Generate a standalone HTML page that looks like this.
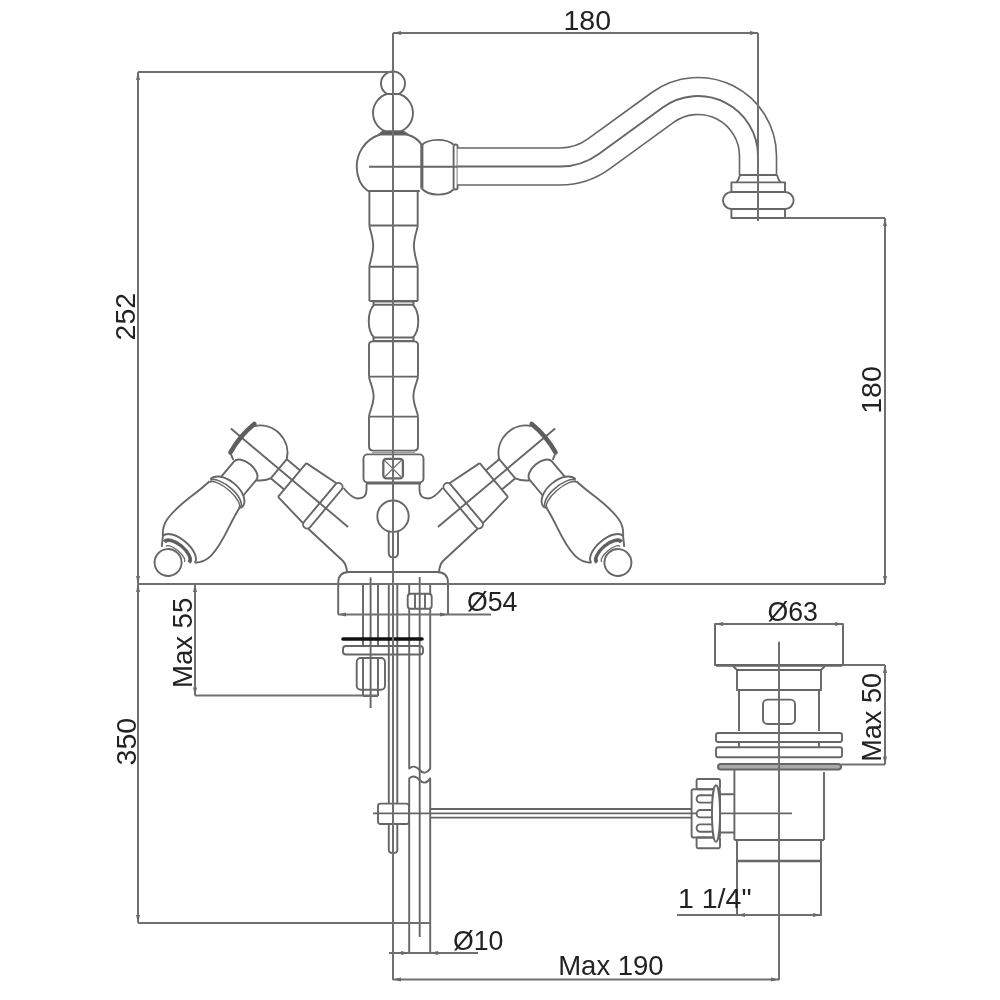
<!DOCTYPE html>
<html><head><meta charset="utf-8"><style>
html,body{margin:0;padding:0;background:#fff;width:1000px;height:1000px;overflow:hidden}
svg{display:block;will-change:transform}
text{font-family:"Liberation Sans",sans-serif}
</style></head><body>
<svg width="1000" height="1000" viewBox="0 0 1000 1000">
<g fill="none" stroke="#666" stroke-width="1.9" stroke-linejoin="round">
<path d="M387.2 94A12 12 0 1 1 398.8 94Z"/>
<path d="M386.8 94A20 20 0 0 0 385.4 131.5M399.2 94A20 20 0 0 1 400.6 131.5"/>
<path d="M383 131.3L403 131.3L408 134.6L379 134.6Z" fill="#5a5a5a"/>
<path d="M380 134.5C364 140 356.5 154 356.7 167C357 178 361 186 367.8 191"/>
<path d="M406.8 134.5C414 136.5 419 140 421.7 145L421.7 188.5"/>
<path d="M421.9 144L421.9 188.5" stroke-width="3"/>
<path d="M367.8 191L419.8 191"/>
<path d="M421.7 145C429 138.2 446 138.2 453.5 144.5M421.7 188.5C429 196.5 446 196.5 453.5 189.5"/>
<rect x="453.6" y="144.5" width="4" height="45" rx="2"/>
<path d="M457.5 166.5L560 166.5A66 66 0 0 0 598.8 153.9L662.73 107.46A60 60 0 0 1 758 156L758 175" stroke-width="38.6"/>
<path d="M457.5 166.5L560 166.5A66 66 0 0 0 598.8 153.9L662.73 107.46A60 60 0 0 1 758 156L758 175" stroke="#fff" stroke-width="35.4"/>
<path d="M369 166.8L457.5 166.8"/>
<path d="M457.5 166.5L560 166.5A66 66 0 0 0 598.8 153.9L662.73 107.46A60 60 0 0 1 758 156L758 175"/>
<path d="M740 175L777 175M740 175Q738.5 180 736.6 182.4M777 175Q778.5 180 780.4 182.4"/>
<rect x="731.4" y="182.4" width="53.6" height="9.6"/>
<rect x="723" y="192" width="70.6" height="17" rx="8.5"/>
<rect x="731.4" y="209" width="53.6" height="9"/>
<path d="M369.4 191L369.4 225.5M417.7 191L417.7 225.5M369.4 225.5L417.7 225.5"/>
<path d="M369.4 225.5C369.4 229 373.2 237 373.2 246.1C373.2 255 369.4 263 369.4 266.8M417.7 225.5C417.7 229 413.9 237 413.9 246.1C413.9 255 417.7 263 417.7 266.8"/>
<path d="M369.4 266.8L417.7 266.8M369.4 266.8L369.4 301M417.7 266.8L417.7 301M369.4 301L417.7 301"/>
<path d="M373.5 301.5L413.5 301.5L413.5 304.8L373.5 304.8Z" stroke-width="2"/>
<path d="M374 305C367 312 367 330.5 374 337.4M413 305C420 312 420 330.5 413 337.4"/>
<path d="M373.5 337.6L413.5 337.6L413.5 341L373.5 341Z" stroke-width="2"/>
<path d="M369 376.6L369 345Q369 341.4 373 341.4L414 341.4Q418 341.4 418 345L418 376.6M369 376.6L418 376.6"/>
<path d="M369 376.6C369 380 373.6 388 373.6 396.6C373.6 405 369 413 369 416.6M418 376.6C418 380 413.4 388 413.4 396.6C413.4 405 418 413 418 416.6"/>
<path d="M369 416.6L418 416.6M369 416.6L369 446.6Q369 450.6 373 450.6L414 450.6Q418 450.6 418 446.6L418 416.6"/>
<path d="M372 452.5L415 452.5" stroke-width="1" stroke="#999"/>
<rect x="363.5" y="454.4" width="60" height="28.1" rx="4"/>
<path d="M366 483.3L421 483.3" stroke-width="2.6"/>
<rect x="383.3" y="458.8" width="19.6" height="19.6" rx="3" stroke-width="2.3"/>
<path d="M384.8 460.6L401 476.9M401 460.6L384.8 476.9" stroke-width="1.3"/>
<path d="M343.5 488Q352 498.5 358 498.5Q366.5 498.5 366.5 490L366.5 484"/>
<path d="M442.5 488Q434 498.5 428 498.5Q419.5 498.5 419.5 490L419.5 484"/>
<path d="M308.5 529L343 561Q346.5 565 347 572M477.5 529L443 561Q439.5 565 439 572"/>
<circle cx="393" cy="516.2" r="15.7"/>
<path d="M388.7 532L388.7 553Q388.7 557.5 393.3 557.5Q398 557.5 398 553L398 532"/>
<path d="M338.2 614.5L338.2 583Q338.2 572 349 572L437 572Q448 572 448 583L448 614.5"/>
<g transform="translate(260,453) rotate(40)"><path d="M-38 0L115 0"/><path d="M-21.5 -17.2A27.5 27.5 0 0 1 24.5 -12.5M24.5 12.5A27.5 27.5 0 0 1 14.5 23.4"/><path d="M-23 -18.5Q-26.5 0 -23 18.5" stroke-width="4.6" stroke="#5e5e5e" stroke-linecap="round"/><path d="M-23.5 18.5L-16 22.5"/><path d="M24.5 -12.5L42 -12.5M24.5 12.5L42 12.5M24.5 -12.5L24.5 12.5"/><path d="M42 -22L78 -26M42 22L78 26M42 -22L42 22"/><rect x="78" y="-28.5" width="8" height="57" rx="4"/><path d="M-14.5 43.3L-14.5 23A14.5 8 0 0 1 14.5 23L14.5 43.3"/><path d="M-21 52A21 12 0 0 1 21 52Q21.5 54 19.5 54.5"/><path d="M-20.5 53A20 8 0 0 1 19.5 54.5" stroke-width="1.6"/><path d="M-20 55A19.5 7 0 0 1 19 56" stroke-width="1.4"/><path d="M-20.5 54C-23 75 -30 92 -28.5 110C-28 117 -25 122 -21 126M19.5 55C22 75 30 92 28.5 110C28 117 25 122 20.5 126"/><path d="M-21 126A20.75 10 0 0 1 20.5 126"/><path d="M-17.5 129A17.5 8.5 0 0 1 17.5 129L14.5 129A14.5 6 0 0 0 -14.5 129Z" fill="#5a5a5a" stroke-width="1"/><path d="M-12 132A12 4.5 0 0 1 12 132" stroke-width="1.2"/><path d="M-21 126L-15 135"/><circle cx="0" cy="143" r="13.5" fill="#fff"/></g>
<g transform="translate(786,0) scale(-1,1)"><g transform="translate(260,453) rotate(40)"><path d="M-38 0L115 0"/><path d="M-21.5 -17.2A27.5 27.5 0 0 1 24.5 -12.5M24.5 12.5A27.5 27.5 0 0 1 14.5 23.4"/><path d="M-23 -18.5Q-26.5 0 -23 18.5" stroke-width="4.6" stroke="#5e5e5e" stroke-linecap="round"/><path d="M-23.5 18.5L-16 22.5"/><path d="M24.5 -12.5L42 -12.5M24.5 12.5L42 12.5M24.5 -12.5L24.5 12.5"/><path d="M42 -22L78 -26M42 22L78 26M42 -22L42 22"/><rect x="78" y="-28.5" width="8" height="57" rx="4"/><path d="M-14.5 43.3L-14.5 23A14.5 8 0 0 1 14.5 23L14.5 43.3"/><path d="M-21 52A21 12 0 0 1 21 52Q21.5 54 19.5 54.5"/><path d="M-20.5 53A20 8 0 0 1 19.5 54.5" stroke-width="1.6"/><path d="M-20 55A19.5 7 0 0 1 19 56" stroke-width="1.4"/><path d="M-20.5 54C-23 75 -30 92 -28.5 110C-28 117 -25 122 -21 126M19.5 55C22 75 30 92 28.5 110C28 117 25 122 20.5 126"/><path d="M-21 126A20.75 10 0 0 1 20.5 126"/><path d="M-17.5 129A17.5 8.5 0 0 1 17.5 129L14.5 129A14.5 6 0 0 0 -14.5 129Z" fill="#5a5a5a" stroke-width="1"/><path d="M-12 132A12 4.5 0 0 1 12 132" stroke-width="1.2"/><path d="M-21 126L-15 135"/><circle cx="0" cy="143" r="13.5" fill="#fff"/></g></g>
<path d="M363 585L363 646M378 585L378 646"/>
<path d="M370.6 577.4L370.6 708"/>
<path d="M388.8 584L388.8 850M397.3 584L397.3 850M388.8 850Q388.8 853 393 853Q397.3 853 397.3 850"/>
<path d="M409.2 584L409.2 594M430.2 584L430.2 594"/>
<rect x="407.7" y="593.7" width="24" height="15" rx="3"/>
<path d="M415 593.7L415 608.7M425 593.7L425 608.7"/>
<path d="M419.7 577L419.7 937"/>
<path d="M409.2 609L409.2 768.6Q414 764 419.7 770Q425 776 430.2 768.6L430.2 609"/>
<path d="M409.2 953L409.2 778.4Q414 774 419.7 780Q425 786 430.2 778.4L430.2 953"/>
<path d="M343 639L422 639" stroke="#111" stroke-width="3.6" stroke-linecap="round"/>
<rect x="343" y="646" width="80" height="8.5" rx="3"/>
<rect x="356.7" y="658" width="28.3" height="31.7" rx="4"/>
<path d="M363 658L363 696M378 658L378 696M363 696L378 696"/>
<rect x="378" y="803.6" width="31" height="20.4" rx="2.5" fill="#fff"/>
<path d="M373 813.4L792 813.4"/>
<path d="M430.2 809L691.6 809M430.2 817.6L691.6 817.6"/>
<rect x="715" y="624" width="128" height="41"/>
<path d="M716 665.5L842 665.5" stroke-width="2.6"/>
<path d="M733 666L737 670L821 670L825 666"/>
<rect x="737" y="670" width="84" height="20"/>
<path d="M739 690L739 731M819 690L819 731"/>
<rect x="763" y="699.6" width="32" height="24.4" rx="4.5"/>
<rect x="716" y="733" width="126" height="9" rx="2.2"/>
<path d="M739 742L739 747.3M819 742L819 747.3"/>
<rect x="716" y="747.3" width="126" height="10" rx="2.2"/>
<rect x="718" y="764" width="123" height="5.6" rx="2.8" stroke-width="2" fill="#aaa"/>
<path d="M734.4 770L734.4 840M824 772L824 840M734.4 840L824 840"/>
<rect x="737" y="840" width="84" height="21"/>
<path d="M737 861L821 861" stroke-width="2.6"/>
<path d="M737 861L737 916M821 861L821 916"/>
<rect x="696.6" y="779" width="23.4" height="10.3" rx="1.5"/>
<rect x="691.6" y="789.3" width="28.4" height="48.2" rx="2"/>
<rect x="696.6" y="837.5" width="23.4" height="10.8" rx="1.5"/>
<rect x="696.6" y="795.2" width="17.5" height="7.4" rx="3.7" fill="#fff"/>
<rect x="696.6" y="810" width="17.5" height="7.4" rx="3.7" fill="#fff"/>
<rect x="696.6" y="824.4" width="17.5" height="7.4" rx="3.7" fill="#fff"/>
<ellipse cx="716" cy="813.6" rx="4" ry="28.3" fill="#fff"/>
<path d="M720 794.3L734.4 794.3M720 832.5L734.4 832.5"/>
</g>
<g fill="none" stroke="#707070" stroke-width="2">
<path d="M393 33L758 33"/>
<path d="M758 33L758 221"/>
<path d="M138 72L393 72"/>
<path d="M138 72L138 584"/>
<path d="M785 218L885 218"/>
<path d="M885 218L885 584"/>
<path d="M138 584L885 584"/>
<path d="M138 584L138 923"/>
<path d="M138 923L430 923"/>
<path d="M195 584L195 695.5"/>
<path d="M195 695.5L378 695.5"/>
<path d="M338 614.5L491 614.5"/>
<path d="M389 953L478 953"/>
<path d="M393 979.5L779 979.5"/>
<path d="M779 641.7L779 980"/>
<path d="M715 624L843 624"/>
<path d="M843 665L885 665"/>
<path d="M841 764.5L885 764.5"/>
<path d="M885 665L885 764.5"/>
<path d="M677 915L822 915"/>
<path d="M393 33L393 980"/>
</g>
<g>
<path d="M393.0 33.0L401.0 31.0L401.0 35.0Z" fill="#6a6a6a" stroke="none"/>
<path d="M758.0 33.0L750.0 35.0L750.0 31.0Z" fill="#6a6a6a" stroke="none"/>
<path d="M138.0 72.0L140.0 80.0L136.0 80.0Z" fill="#6a6a6a" stroke="none"/>
<path d="M138.0 584.0L136.0 576.0L140.0 576.0Z" fill="#6a6a6a" stroke="none"/>
<path d="M885.0 218.0L887.0 226.0L883.0 226.0Z" fill="#6a6a6a" stroke="none"/>
<path d="M885.0 584.0L883.0 576.0L887.0 576.0Z" fill="#6a6a6a" stroke="none"/>
<path d="M138.0 584.0L140.0 592.0L136.0 592.0Z" fill="#6a6a6a" stroke="none"/>
<path d="M138.0 923.0L136.0 915.0L140.0 915.0Z" fill="#6a6a6a" stroke="none"/>
<path d="M195.0 584.0L197.0 592.0L193.0 592.0Z" fill="#6a6a6a" stroke="none"/>
<path d="M195.0 695.5L193.0 687.5L197.0 687.5Z" fill="#6a6a6a" stroke="none"/>
<path d="M338.0 614.5L346.0 612.5L346.0 616.5Z" fill="#6a6a6a" stroke="none"/>
<path d="M448.0 614.5L440.0 616.5L440.0 612.5Z" fill="#6a6a6a" stroke="none"/>
<path d="M409.0 953.0L401.0 955.0L401.0 951.0Z" fill="#6a6a6a" stroke="none"/>
<path d="M430.0 953.0L438.0 951.0L438.0 955.0Z" fill="#6a6a6a" stroke="none"/>
<path d="M393.0 979.5L401.0 977.5L401.0 981.5Z" fill="#6a6a6a" stroke="none"/>
<path d="M779.0 979.5L771.0 981.5L771.0 977.5Z" fill="#6a6a6a" stroke="none"/>
<path d="M715.0 624.0L723.0 622.0L723.0 626.0Z" fill="#6a6a6a" stroke="none"/>
<path d="M843.0 624.0L835.0 626.0L835.0 622.0Z" fill="#6a6a6a" stroke="none"/>
<path d="M885.0 665.0L887.0 673.0L883.0 673.0Z" fill="#6a6a6a" stroke="none"/>
<path d="M885.0 764.5L883.0 756.5L887.0 756.5Z" fill="#6a6a6a" stroke="none"/>
<path d="M737.0 915.0L745.0 913.0L745.0 917.0Z" fill="#6a6a6a" stroke="none"/>
<path d="M821.0 915.0L813.0 917.0L813.0 913.0Z" fill="#6a6a6a" stroke="none"/>
</g>
<g fill="#222" font-family="Liberation Sans, sans-serif">
<text x="0" y="0" transform="translate(563.50,29.60) rotate(0) scale(1.0000,1)" font-size="28.5">180</text>
<text x="0" y="0" transform="translate(135.00,340.45) rotate(-90) scale(1.0000,1)" font-size="28.5">252</text>
<text x="0" y="0" transform="translate(881.00,413.80) rotate(-90) scale(1.0000,1)" font-size="28.5">180</text>
<text x="0" y="0" transform="translate(191.50,688.00) rotate(-90) scale(0.9660,1)" font-size="28.5">Max 55</text>
<text x="0" y="0" transform="translate(136.00,765.40) rotate(-90) scale(1.0000,1)" font-size="28.5">350</text>
<text x="0" y="0" transform="translate(467.00,611.00) rotate(0) scale(0.9360,1)" font-size="28.5">Ø54</text>
<text x="0" y="0" transform="translate(453.00,950.00) rotate(0) scale(0.9360,1)" font-size="28.5">Ø10</text>
<text x="0" y="0" transform="translate(558.20,975.30) rotate(0) scale(0.9650,1)" font-size="28.5">Max 190</text>
<text x="0" y="0" transform="translate(767.50,621.00) rotate(0) scale(0.9360,1)" font-size="28.5">Ø63</text>
<text x="0" y="0" transform="translate(881.00,761.80) rotate(-90) scale(0.9510,1)" font-size="28.5">Max 50</text>
<text x="0" y="0" transform="translate(678.00,908.00) rotate(0) scale(1.0000,1)" font-size="28.5">1 1/4"</text>
</g>
</svg>
</body></html>
